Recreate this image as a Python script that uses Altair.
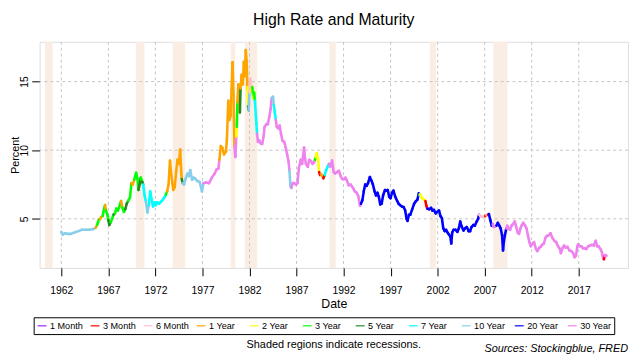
import altair as alt
import pandas as pd

FONT = "Liberation Sans"

maturities = ["1 Month", "3 Month", "6 Month", "1 Year", "2 Year", "3 Year",
              "5 Year", "7 Year", "10 Year", "20 Year", "30 Year"]
codes = ["1M", "3M", "6M", "1Y", "2Y", "3Y", "5Y", "7Y", "10Y", "20Y", "30Y"]
colors = ["#A020F0", "#FF0000", "#FFC0CB", "#FFA500", "#FFFF00", "#00FF00",
          "#228B22", "#00FFFF", "#87CEEB", "#0000FF", "#EE82EE"]

# highest rate among maturities (date as decimal year, percent, maturity code)
dates = [
    1962.00, 1962.15, 1962.40, 1962.70, 1963.00, 1963.40, 1963.80, 1964.20, 1964.60, 1965.00,
    1965.40, 1965.65, 1965.80, 1966.00, 1966.10, 1966.20, 1966.40, 1966.55, 1966.65, 1966.75,
    1966.90, 1967.00, 1967.10, 1967.25, 1967.40, 1967.55, 1967.70, 1967.85, 1968.00, 1968.15,
    1968.35, 1968.50, 1968.65, 1968.80, 1968.95, 1969.10, 1969.30, 1969.45, 1969.60, 1969.75,
    1969.95, 1970.10, 1970.20, 1970.35, 1970.45, 1970.60, 1970.70, 1970.85, 1971.00, 1971.15,
    1971.30, 1971.45, 1971.60, 1971.75, 1971.90, 1972.05, 1972.20, 1972.40, 1972.60, 1972.80,
    1972.95, 1973.10, 1973.25, 1973.40, 1973.55, 1973.65, 1973.80, 1973.90, 1974.05, 1974.20,
    1974.35, 1974.50, 1974.63, 1974.72, 1974.80, 1974.90, 1975.05, 1975.20, 1975.40, 1975.55,
    1975.70, 1975.90, 1976.05, 1976.20, 1976.45, 1976.70, 1976.95, 1977.10, 1977.40, 1977.70,
    1978.00, 1978.30, 1978.50, 1978.70, 1978.80, 1978.95, 1979.10, 1979.30, 1979.50, 1979.60,
    1979.75, 1979.85, 1980.00, 1980.10, 1980.20, 1980.30, 1980.40, 1980.50, 1980.60, 1980.65,
    1980.72, 1980.82, 1980.90, 1980.98, 1981.05, 1981.16, 1981.30, 1981.40, 1981.50, 1981.60,
    1981.70, 1981.78, 1981.80, 1981.85, 1981.92, 1982.00, 1982.10, 1982.20, 1982.30, 1982.42,
    1982.50, 1982.58, 1982.68, 1982.73, 1982.80, 1982.90, 1983.05, 1983.20, 1983.35, 1983.50,
    1983.60, 1983.80, 1983.95, 1984.10, 1984.25, 1984.35, 1984.50, 1984.58, 1984.68, 1984.80,
    1984.90, 1985.05, 1985.20, 1985.35, 1985.50, 1985.70, 1985.85, 1986.00, 1986.15, 1986.25,
    1986.35, 1986.45, 1986.60, 1986.75, 1986.95, 1987.10, 1987.25, 1987.45, 1987.60, 1987.80,
    1987.90, 1988.00, 1988.20, 1988.35, 1988.55, 1988.70, 1988.85, 1988.95, 1989.05, 1989.15,
    1989.30, 1989.40, 1989.50, 1989.60, 1989.75, 1989.85, 1990.00, 1990.15, 1990.30, 1990.45,
    1990.60, 1990.78, 1990.95, 1991.10, 1991.30, 1991.50, 1991.70, 1991.85, 1992.05, 1992.20,
    1992.35, 1992.55, 1992.75, 1992.90, 1993.05, 1993.20, 1993.40, 1993.57, 1993.75, 1993.85,
    1994.00, 1994.15, 1994.30, 1994.45, 1994.60, 1994.80, 1994.95, 1995.10, 1995.30, 1995.45,
    1995.60, 1995.75, 1995.90, 1996.05, 1996.20, 1996.40, 1996.55, 1996.70, 1996.85, 1997.00,
    1997.15, 1997.30, 1997.50, 1997.70, 1997.85, 1998.00, 1998.20, 1998.40, 1998.55, 1998.70,
    1998.80, 1998.95, 1999.10, 1999.30, 1999.50, 1999.65, 1999.85, 2000.00, 2000.07, 2000.12,
    2000.25, 2000.35, 2000.55, 2000.70, 2000.80, 2000.90, 2001.10, 2001.30, 2001.45, 2001.60,
    2001.80, 2001.95, 2002.15, 2002.30, 2002.45, 2002.60, 2002.75, 2002.90, 2003.05, 2003.20,
    2003.35, 2003.45, 2003.55, 2003.70, 2003.90, 2004.10, 2004.25, 2004.40, 2004.55, 2004.75,
    2004.90, 2005.10, 2005.30, 2005.45, 2005.60, 2005.80, 2005.95, 2006.15, 2006.30, 2006.40,
    2006.55, 2006.70, 2006.90, 2007.05, 2007.20, 2007.35, 2007.45, 2007.60, 2007.75, 2007.85,
    2007.95, 2008.10, 2008.25, 2008.40, 2008.55, 2008.70, 2008.85, 2008.95, 2009.05, 2009.15,
    2009.30, 2009.40, 2009.55, 2009.70, 2009.85, 2010.00, 2010.20, 2010.35, 2010.50, 2010.65,
    2010.80, 2010.95, 2011.10, 2011.30, 2011.45, 2011.60, 2011.75, 2011.90, 2012.10, 2012.25,
    2012.45, 2012.60, 2012.80, 2012.95, 2013.10, 2013.30, 2013.45, 2013.60, 2013.80, 2014.00,
    2014.20, 2014.40, 2014.60, 2014.80, 2015.00, 2015.10, 2015.30, 2015.45, 2015.60, 2015.80,
    2016.00, 2016.20, 2016.40, 2016.55, 2016.70, 2016.85, 2016.95, 2017.10, 2017.30, 2017.45,
    2017.60, 2017.80, 2018.00, 2018.20, 2018.40, 2018.60, 2018.80, 2018.95, 2019.10, 2019.30,
    2019.45, 2019.60, 2019.68, 2019.75, 2019.85, 2019.95,
]
rates = [
    4.05, 3.85, 3.95, 3.90, 3.90, 4.00, 4.10, 4.20, 4.20, 4.20,
    4.25, 4.35, 4.55, 4.95, 4.95, 5.10, 5.20, 5.75, 6.00, 5.60,
    5.30, 4.90, 4.55, 4.75, 5.00, 5.30, 5.40, 5.75, 5.60, 5.85,
    6.30, 5.80, 5.50, 5.70, 6.10, 6.30, 6.55, 7.60, 7.50, 7.85,
    8.35, 7.90, 7.10, 7.60, 8.00, 7.70, 7.50, 6.70, 6.20, 5.45,
    6.00, 7.00, 6.40, 5.90, 6.20, 6.00, 6.20, 6.10, 6.25, 6.40,
    6.55, 6.75, 7.00, 7.50, 9.25, 8.50, 7.60, 7.10, 7.30, 8.40,
    9.30, 9.00, 10.05, 8.80, 7.90, 7.60, 7.50, 7.90, 8.30, 8.10,
    8.55, 7.85, 8.00, 7.95, 7.75, 7.70, 7.00, 7.60, 7.65, 7.60,
    8.00, 8.30, 8.60, 8.65, 9.30, 10.30, 10.20, 9.70, 9.90, 10.80,
    13.60, 12.20, 12.50, 14.50, 16.40, 14.00, 10.30, 9.50, 11.00, 11.70,
    13.50, 14.80, 13.80, 12.75, 14.50, 15.50, 14.80, 16.45, 15.40, 17.30,
    16.50, 14.50, 14.60, 13.20, 12.90, 14.20, 15.20, 14.30, 14.60, 13.80,
    14.20, 13.60, 12.50, 12.00, 11.20, 10.60, 10.70, 10.50, 10.45, 11.00,
    11.70, 11.90, 11.90, 12.40, 13.00, 13.80, 13.90, 13.30, 12.80, 12.20,
    11.70, 11.60, 11.80, 11.20, 10.70, 10.60, 10.20, 9.70, 9.20, 8.50,
    7.40, 7.25, 7.60, 7.60, 7.50, 7.60, 8.70, 9.30, 9.00, 10.20,
    9.40, 9.00, 8.80, 9.30, 9.20, 9.00, 9.10, 9.30, 9.50, 9.80,
    9.30, 8.40, 8.20, 8.25, 8.10, 7.95, 8.20, 8.55, 8.80, 9.00,
    8.80, 9.25, 8.40, 8.30, 8.40, 8.50, 8.10, 7.90, 7.90, 8.00,
    7.80, 7.45, 7.50, 7.35, 7.20, 7.00, 6.90, 6.65, 5.95, 6.10,
    6.35, 7.00, 7.50, 7.40, 7.60, 8.05, 7.80, 7.55, 7.00, 6.70,
    6.90, 6.60, 6.05, 6.10, 6.70, 7.10, 7.05, 7.10, 6.60, 6.50,
    6.90, 7.05, 6.60, 6.30, 6.10, 6.00, 5.90, 5.85, 5.60, 5.00,
    4.85, 5.30, 5.30, 5.70, 6.10, 6.25, 6.40, 6.85, 6.70, 6.80,
    6.60, 6.50, 6.40, 6.30, 5.95, 5.75, 5.70, 5.80, 5.60, 5.65,
    5.40, 5.50, 5.60, 5.20, 5.05, 4.30, 4.10, 4.20, 4.00, 3.85,
    3.70, 3.20, 4.00, 4.20, 4.20, 4.05, 4.30, 4.80, 4.45, 4.15,
    4.30, 4.40, 4.10, 4.10, 4.40, 4.55, 4.50, 4.80, 5.00, 5.30,
    5.20, 5.15, 5.15, 5.20, 5.25, 5.30, 5.35, 4.90, 4.50, 4.60,
    4.40, 4.45, 4.50, 4.70, 4.50, 4.30, 3.80, 2.70, 3.40, 3.80,
    4.30, 4.50, 4.30, 4.20, 4.50, 4.60, 4.80, 4.40, 4.00, 3.90,
    4.30, 4.55, 4.70, 4.50, 4.30, 3.80, 3.30, 3.00, 3.20, 3.30,
    2.80, 2.65, 2.90, 2.95, 3.10, 3.20, 3.60, 3.75, 3.80, 3.95,
    3.60, 3.40, 3.30, 3.00, 2.80, 2.50, 2.90, 3.05, 2.90, 2.95,
    2.70, 2.65, 2.50, 2.20, 2.30, 3.00, 3.15, 3.00, 3.00, 2.85,
    2.85, 2.80, 3.00, 3.05, 3.10, 3.05, 3.40, 3.00, 3.00, 2.80,
    2.60, 2.10, 2.05, 2.30, 2.35, 2.30,
]
high = [
    "10Y", "10Y", "10Y", "10Y", "10Y", "10Y", "10Y", "10Y", "10Y", "10Y",
    "10Y", "1Y", "3Y", "3Y", "1Y", "1Y", "3Y", "3Y", "1Y", "3Y",
    "3Y", "5Y", "5Y", "3Y", "3Y", "5Y", "3Y", "3Y", "3Y", "3Y",
    "1Y", "3Y", "3Y", "5Y", "5Y", "3Y", "3Y", "1Y", "1Y", "3Y",
    "3Y", "3Y", "5Y", "5Y", "3Y", "5Y", "7Y", "7Y", "10Y", "10Y",
    "7Y", "7Y", "7Y", "7Y", "7Y", "7Y", "7Y", "7Y", "7Y", "7Y",
    "7Y", "3Y", "1Y", "1Y", "1Y", "1Y", "1Y", "1Y", "1Y", "1Y",
    "1Y", "1Y", "1Y", "1Y", "5Y", "10Y", "10Y", "10Y", "10Y", "10Y",
    "10Y", "10Y", "10Y", "10Y", "10Y", "10Y", "10Y", "30Y", "30Y", "30Y",
    "30Y", "30Y", "30Y", "30Y", "1Y", "1Y", "1Y", "1Y", "1Y", "1Y",
    "1Y", "1Y", "1Y", "1Y", "1Y", "1Y", "30Y", "30Y", "2Y", "3Y",
    "1Y", "1Y", "1Y", "5Y", "1Y", "1Y", "1Y", "1Y", "1Y", "1Y",
    "1Y", "1Y", "2Y", "5Y", "10Y", "6M", "6M", "2Y", "3Y", "2Y",
    "3Y", "7Y", "7Y", "7Y", "30Y", "30Y", "30Y", "30Y", "30Y", "30Y",
    "30Y", "30Y", "30Y", "30Y", "30Y", "10Y", "10Y", "7Y", "7Y", "30Y",
    "30Y", "30Y", "30Y", "30Y", "30Y", "30Y", "30Y", "30Y", "30Y", "10Y",
    "10Y", "30Y", "30Y", "30Y", "30Y", "30Y", "30Y", "30Y", "30Y", "30Y",
    "30Y", "30Y", "30Y", "30Y", "30Y", "30Y", "30Y", "3Y", "2Y", "2Y",
    "2Y", "3M", "3M", "1Y", "1Y", "3M", "7Y", "7Y", "7Y", "30Y",
    "30Y", "30Y", "30Y", "30Y", "30Y", "30Y", "30Y", "30Y", "30Y", "30Y",
    "30Y", "30Y", "30Y", "30Y", "30Y", "30Y", "30Y", "30Y", "30Y", "20Y",
    "20Y", "20Y", "20Y", "20Y", "20Y", "20Y", "20Y", "20Y", "20Y", "20Y",
    "20Y", "20Y", "20Y", "20Y", "20Y", "20Y", "20Y", "20Y", "20Y", "20Y",
    "20Y", "20Y", "20Y", "20Y", "20Y", "20Y", "20Y", "20Y", "20Y", "20Y",
    "20Y", "20Y", "20Y", "20Y", "20Y", "20Y", "20Y", "20Y", "7Y", "2Y",
    "2Y", "2Y", "2Y", "3M", "3M", "20Y", "20Y", "20Y", "20Y", "20Y",
    "20Y", "20Y", "20Y", "20Y", "20Y", "20Y", "20Y", "20Y", "20Y", "20Y",
    "20Y", "20Y", "20Y", "20Y", "20Y", "20Y", "20Y", "20Y", "20Y", "20Y",
    "20Y", "20Y", "20Y", "20Y", "20Y", "20Y", "20Y", "20Y", "20Y", "6M",
    "6M", "6M", "6M", "3M", "6M", "3M", "20Y", "20Y", "20Y", "30Y",
    "30Y", "30Y", "20Y", "20Y", "20Y", "20Y", "20Y", "20Y", "20Y", "20Y",
    "30Y", "30Y", "30Y", "30Y", "30Y", "30Y", "30Y", "30Y", "30Y", "30Y",
    "30Y", "30Y", "30Y", "30Y", "30Y", "30Y", "30Y", "30Y", "30Y", "30Y",
    "30Y", "30Y", "30Y", "30Y", "30Y", "30Y", "30Y", "30Y", "30Y", "30Y",
    "30Y", "30Y", "30Y", "30Y", "30Y", "30Y", "30Y", "30Y", "30Y", "30Y",
    "30Y", "30Y", "30Y", "30Y", "30Y", "30Y", "30Y", "30Y", "30Y", "30Y",
    "30Y", "30Y", "30Y", "30Y", "30Y", "30Y", "30Y", "30Y", "30Y", "30Y",
    "30Y", "30Y", "3M", "30Y", "30Y", "30Y",
]

rec_start = [1960.25, 1969.92, 1973.83, 1980.00, 1981.50, 1990.50, 2001.17, 2007.92]
rec_end = [1961.08, 1970.83, 1975.17, 1980.50, 1982.83, 1991.17, 2001.83, 2009.42]

x_ticks = [1962, 1967, 1972, 1977, 1982, 1987, 1992, 1997, 2002, 2007, 2012, 2017]
y_ticks = [5, 10, 15]
x_domain = [1959.69, 2022.24]
y_domain = [1.42, 17.9]

W, H = 596, 229

label_of = dict(zip(codes, maturities))
seg = pd.DataFrame({
    "x": dates[:-1], "y": rates[:-1],
    "x2": dates[1:], "y2": rates[1:],
    "Maturity": [label_of[c] for c in high[:-1]],
})
rec = pd.DataFrame({"start": rec_start, "end": rec_end})
xg = pd.DataFrame({"t": x_ticks})
yg = pd.DataFrame({"v": y_ticks})

xscale = alt.Scale(domain=x_domain, nice=False, zero=False)
yscale = alt.Scale(domain=y_domain, nice=False, zero=False)

xaxis = alt.Axis(values=x_ticks, format="d", title="Date", grid=False, domain=False,
                 tickColor="black", tickSize=8, labelColor="black", labelFont=FONT,
                 labelFontSize=10.5, labelBaseline="alphabetic", labelPadding=18,
                 titleFont=FONT, titleFontSize=12.5, titleFontWeight="normal",
                 titleColor="black", titleBaseline="alphabetic", titleY=40)
yaxis = alt.Axis(values=y_ticks, title="Percent", grid=False, domain=False,
                 tickColor="black", tickSize=8, labelColor="black", labelFont=FONT,
                 labelFontSize=10.5, labelAngle=270, labelAlign="center",
                 labelBaseline="alphabetic", labelPadding=4.5,
                 titleFont=FONT, titleFontSize=11, titleFontWeight="normal",
                 titleColor="black", titleBaseline="alphabetic", titleX=-21.5)

rects = alt.Chart(rec).mark_rect(color="#FAEEE4").encode(
    x=alt.X("start:Q", scale=xscale, axis=xaxis),
    x2="end:Q",
    y=alt.value(0), y2=alt.value(H),
)

vgrid = alt.Chart(xg).mark_rule(color="#C4C4C4", strokeDash=[3, 3], strokeWidth=1).encode(
    x=alt.X("t:Q", scale=xscale),
)
hgrid = alt.Chart(yg).mark_rule(color="#C4C4C4", strokeDash=[3, 3], strokeWidth=1).encode(
    y=alt.Y("v:Q", scale=yscale, axis=yaxis),
)

lines = alt.Chart(seg).mark_rule(strokeWidth=2.6, strokeCap="round").encode(
    x=alt.X("x:Q", scale=xscale),
    y=alt.Y("y:Q", scale=yscale),
    x2="x2:Q",
    y2="y2:Q",
    color=alt.Color("Maturity:N",
                    scale=alt.Scale(domain=maturities, range=colors),
                    legend=alt.Legend(orient="none", legendX=-6, legendY=279,
                                      direction="horizontal", columns=11, gridAlign="all",
                                      symbolType="stroke", symbolSize=81,
                                      symbolStrokeWidth=1.2, labelFontSize=9.2,
                                      labelFont=FONT, labelColor="black", labelOffset=2.5,
                                      columnPadding=4.7, padding=3, strokeColor="black",
                                      fillColor="white", title=None)),
)

notes = pd.DataFrame({"a": [1]})
shaded = alt.Chart(notes).mark_text(
    text="Shaded regions indicate recessions.", font=FONT, fontSize=11,
    align="center", baseline="alphabetic", color="black",
).encode(x=alt.value(W / 2), y=alt.value(H + 81))
sources = alt.Chart(notes).mark_text(
    text="Sources: Stockingblue, FRED", font=FONT, fontSize=11, fontStyle="italic",
    align="right", baseline="alphabetic", color="black",
).encode(x=alt.value(W), y=alt.value(H + 85))

chart = alt.layer(rects, vgrid, hgrid, lines, shaded, sources).properties(
    width=W, height=H,
    title=alt.TitleParams("High Rate and Maturity", font=FONT, fontSize=16,
                          fontWeight="normal", color="black", anchor="middle",
                          baseline="alphabetic", frame="group", offset=1),
    autosize=alt.AutoSizeParams(type="none"),
    padding={"left": 32, "top": 32, "right": 4, "bottom": 90},
).configure_view(stroke="black", strokeWidth=1).configure(background="white")

chart.save("out.html", embed_options={"renderer": "svg", "actions": False})
